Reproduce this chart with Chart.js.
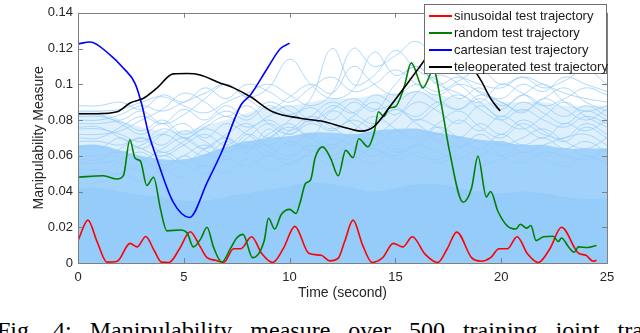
<!DOCTYPE html>
<html>
<head>
<meta charset="utf-8">
<script src="https://cdn.jsdelivr.net/npm/chart.js@4.4.0/dist/chart.umd.min.js"></script>
<style>
  body { margin:0; width:640px; height:333px; overflow:hidden; background:#fff; position:relative; font-family:"Liberation Sans", Arial, sans-serif; }
  #chart { position:absolute; left:0; top:0; }
  #legend { position:absolute; left:424px; top:4px; width:181px; height:68px; background:#fff; border:1px solid #6e6e6e; }
  .item { position:absolute; left:4px; height:17px; line-height:17px; font-size:13px; color:#1a1a1a; white-space:nowrap; }
  .item i { display:inline-block; width:23px; height:0; border-top:2px solid; vertical-align:middle; margin-right:2px; }
  #caption { position:absolute; left:-3px; top:318px; font-family:"Liberation Serif","Times New Roman",serif; font-size:24px; line-height:24px; word-spacing:12px; white-space:nowrap; color:#000; }
</style>
</head>
<body>
<canvas id="chart" width="640" height="305"></canvas>
<div id="legend"></div>
<div id="caption">Fig. 4: Manipulability measure over 500 training joint trajectories</div>
<script>
// test trajectories (time in s, manipulability)
const sinT = [0,0.47,0.9,1.37,1.85,2.46,2.8,3.2,3.6,3.95,4.3,4.8,5.3,5.78,6.1,6.5,6.9,7.35,7.7,8.2,8.7,9.2,9.7,10.25,10.9,11.5,11.9,12.3,12.6,13.0,13.45,13.9,14.4,14.9,15.35,15.8,16.4,17.0,17.45,17.9,18.6,19.05,19.5,19.9,20.3,20.75,21.25,21.75,22.3,22.85,23.65,24.0,24.35,24.5];
const sinV = [0.0125,0.024,0.012,0.0005,0.001,0.011,0.009,0.0148,0.007,0.0005,0.0003,0.008,0.0175,0.009,0.003,0.0015,0.0005,0.008,0.008,0.0147,0.005,0.0003,0.008,0.0205,0.0055,0.0043,0.0012,0.0027,0.012,0.024,0.01,0.0003,0.003,0.011,0.009,0.0147,0.005,0.0003,0.008,0.0173,0.003,0.001,0.003,0.008,0.008,0.0147,0.005,0.0003,0.008,0.020,0.0055,0.0043,0.001,0.0015];

const randT = [0,1.2,1.85,2.15,2.45,2.7,2.95,3.25,3.57,3.9,4.2,4.83,5.15,5.45,5.8,6.1,6.4,6.8,7.2,7.5,7.8,8.25,8.8,9.0,9.3,9.6,10.0,10.3,10.5,10.75,11.0,11.2,11.56,11.94,12.3,12.65,13.0,13.27,13.7,14.0,14.2,14.45,14.7,15.0,15.4,15.75,16.3,16.8,17.15,17.55,18.2,18.6,18.9,19.3,19.5,19.85,20.3,20.7,20.9,21.2,21.4,21.65,22.0,22.45,22.7,22.85,23.2,23.45,23.65,24.1,24.5];
const randV = [0.048,0.0488,0.047,0.049,0.069,0.0586,0.057,0.0434,0.048,0.03,0.018,0.0185,0.017,0.009,0.0135,0.020,0.009,0.0005,0.008,0.014,0.016,0.003,0.0125,0.025,0.019,0.027,0.030,0.0277,0.034,0.0445,0.0467,0.0586,0.065,0.0586,0.0488,0.063,0.059,0.0695,0.065,0.073,0.0846,0.082,0.0868,0.0874,0.098,0.112,0.098,0.108,0.09,0.063,0.034,0.042,0.0597,0.037,0.040,0.0288,0.0206,0.019,0.0217,0.0195,0.021,0.0125,0.0147,0.015,0.012,0.014,0.0087,0.006,0.009,0.0087,0.0098];

const cartT = [0,0.57,1.5,2.15,2.7,3.03,3.3,3.65,4.5,5.27,6.1,6.8,7.7,8.15,8.95,9.57,10.0];
const cartV = [0.1226,0.1237,0.1166,0.109,0.1004,0.088,0.074,0.061,0.034,0.0255,0.045,0.0624,0.0884,0.094,0.109,0.12,0.123];

const teleT = [0,0.9,1.85,2.46,3.1,3.74,4.5,5.15,5.78,6.65,7.35,8.15,9.2,10.5,11.6,12.55,13.36,14.0,14.8,15.6,16.1,16.7,17.5,18.3,19.05,19.5,19.95];
const teleV = [0.0835,0.0835,0.0846,0.0895,0.0922,0.098,0.1058,0.106,0.1052,0.101,0.098,0.093,0.0846,0.081,0.0792,0.076,0.0738,0.0765,0.0884,0.101,0.109,0.118,0.122,0.115,0.102,0.092,0.085];

// training trajectories: dense band + visible upper curves, sampled each second
const trainT = [0,1,2,3,4,5,6,7,8,9,10,11,12,13,14,15,16,17,18,19,20,21,22,23,24,25];
const coreTop = [0.042,0.042,0.04,0.038,0.037,0.035,0.035,0.037,0.039,0.041,0.043,0.045,0.044,0.042,0.04,0.042,0.044,0.044,0.042,0.04,0.039,0.04,0.039,0.037,0.036,0.036];
const midTop = [0.066,0.066,0.063,0.06,0.058,0.058,0.061,0.065,0.068,0.07,0.071,0.073,0.073,0.072,0.074,0.075,0.075,0.073,0.071,0.069,0.068,0.066,0.066,0.064,0.064,0.064];
const outerTop = [0.085,0.085,0.08,0.076,0.074,0.074,0.077,0.08,0.084,0.087,0.088,0.09,0.092,0.092,0.094,0.095,0.096,0.094,0.092,0.09,0.09,0.09,0.09,0.088,0.088,0.088];
const trainLines = [
  [0.085,0.085,0.086,0.09,0.093,0.088,0.084,0.09,0.095,0.1,0.094,0.088,0.095,0.12,0.11,0.116,0.124,0.112,0.105,0.1,0.098,0.104,0.1,0.095,0.092,0.09],
  [0.082,0.082,0.08,0.085,0.078,0.083,0.092,0.1,0.093,0.098,0.114,0.1,0.092,0.097,0.118,0.105,0.11,0.1,0.095,0.09,0.1,0.095,0.088,0.092,0.098,0.094],
  [0.078,0.078,0.079,0.074,0.08,0.072,0.078,0.085,0.08,0.088,0.083,0.092,0.12,0.1,0.105,0.119,0.108,0.102,0.092,0.098,0.088,0.094,0.1,0.09,0.085,0.088],
  [0.075,0.075,0.072,0.068,0.075,0.07,0.064,0.072,0.078,0.07,0.08,0.087,0.08,0.09,0.085,0.1,0.11,0.1,0.104,0.095,0.09,0.085,0.092,0.098,0.09,0.085],
  [0.072,0.072,0.074,0.08,0.086,0.095,0.09,0.082,0.088,0.078,0.072,0.08,0.075,0.082,0.09,0.083,0.095,0.105,0.1,0.09,0.082,0.09,0.084,0.078,0.085,0.08],
  [0.068,0.068,0.066,0.07,0.062,0.068,0.075,0.07,0.065,0.072,0.078,0.07,0.085,0.078,0.072,0.08,0.09,0.085,0.078,0.088,0.08,0.075,0.082,0.09,0.082,0.076],
  [0.065,0.065,0.062,0.066,0.072,0.066,0.06,0.068,0.062,0.075,0.066,0.072,0.066,0.074,0.082,0.075,0.07,0.078,0.085,0.076,0.07,0.078,0.072,0.07,0.078,0.072],
  [0.06,0.06,0.062,0.058,0.064,0.07,0.063,0.058,0.066,0.06,0.068,0.063,0.07,0.065,0.06,0.068,0.075,0.068,0.065,0.072,0.066,0.07,0.075,0.068,0.064,0.07],
  [0.056,0.056,0.058,0.062,0.055,0.06,0.066,0.06,0.072,0.065,0.06,0.066,0.058,0.064,0.07,0.062,0.066,0.072,0.065,0.06,0.068,0.062,0.066,0.07,0.072,0.066],
  [0.052,0.052,0.05,0.056,0.062,0.056,0.05,0.058,0.054,0.06,0.055,0.062,0.066,0.06,0.056,0.064,0.06,0.058,0.064,0.068,0.06,0.056,0.062,0.06,0.058,0.064],
  [0.08,0.08,0.083,0.088,0.085,0.09,0.095,0.1,0.092,0.086,0.093,0.1,0.095,0.11,0.1,0.094,0.1,0.096,0.102,0.108,0.1,0.104,0.098,0.102,0.108,0.1],
  [0.048,0.048,0.05,0.046,0.052,0.048,0.055,0.05,0.058,0.052,0.056,0.06,0.055,0.058,0.064,0.058,0.062,0.056,0.06,0.055,0.058,0.062,0.058,0.054,0.06,0.056],
  [0.088,0.088,0.09,0.086,0.094,0.09,0.098,0.092,0.1,0.096,0.09,0.098,0.104,0.096,0.1,0.108,0.1,0.094,0.1,0.096,0.092,0.1,0.096,0.104,0.1,0.096],
  [0.07,0.07,0.076,0.082,0.078,0.086,0.08,0.088,0.082,0.09,0.085,0.079,0.088,0.084,0.094,0.088,0.082,0.09,0.086,0.094,0.09,0.084,0.092,0.086,0.08,0.086],
  [0.064,0.064,0.07,0.064,0.072,0.078,0.07,0.078,0.072,0.066,0.074,0.082,0.076,0.07,0.078,0.086,0.078,0.072,0.08,0.074,0.082,0.076,0.07,0.078,0.074,0.08],
  [0.058,0.058,0.064,0.07,0.066,0.074,0.068,0.062,0.07,0.078,0.072,0.078,0.074,0.08,0.074,0.07,0.08,0.076,0.07,0.078,0.072,0.08,0.074,0.068,0.076,0.07],
  [0.05,0.05,0.056,0.052,0.06,0.056,0.064,0.07,0.064,0.07,0.076,0.07,0.064,0.072,0.066,0.074,0.068,0.076,0.07,0.064,0.072,0.066,0.07,0.064,0.068,0.062],
  [0.045,0.045,0.05,0.058,0.052,0.06,0.054,0.062,0.068,0.062,0.058,0.066,0.06,0.068,0.064,0.06,0.066,0.062,0.058,0.064,0.06,0.066,0.06,0.064,0.06,0.056],
  [0.083,0.083,0.078,0.072,0.078,0.07,0.076,0.082,0.076,0.082,0.088,0.08,0.086,0.092,0.086,0.09,0.096,0.09,0.086,0.092,0.086,0.094,0.088,0.082,0.088,0.082],
  [0.076,0.076,0.07,0.064,0.06,0.066,0.072,0.066,0.074,0.08,0.074,0.082,0.09,0.084,0.078,0.086,0.08,0.088,0.094,0.086,0.08,0.086,0.08,0.076,0.082,0.078]
];

const names = ['sinusoidal test trajectory', 'random test trajectory', 'cartesian test trajectory', 'teleoperated test trajectory'];
const colors = ['rgb(255,0,0)', 'rgb(0,128,0)', 'rgb(0,0,255)', 'rgb(0,0,0)'];
const yTicks = [0, 0.02, 0.04, 0.06, 0.08, 0.1, 0.12, 0.14];

const pts = (xs, ys) => xs.map((x, i) => ({x: x, y: ys[i]}));
const lightBlue = 'rgb(150,204,250)';

const datasets = [];
[[sinT, sinV], [randT, randV], [cartT, cartV], [teleT, teleV]].forEach((s, i) => {
  datasets.push({
    label: names[i], data: pts(s[0], s[1]), borderColor: colors[i], borderWidth: 1.6,
    pointRadius: 0, cubicInterpolationMode: 'monotone', order: 4 - i
  });
});
trainLines.forEach((l, i) => {
  datasets.push({
    label: 'train' + i, data: pts(trainT, l), borderColor: 'rgba(150,204,250,0.85)', borderWidth: 0.9,
    pointRadius: 0, tension: 0.4, order: 10
  });
});
datasets.push({label: 'outer', data: pts(trainT, outerTop), borderWidth: 0, pointRadius: 0, tension: 0.4,
  fill: 'origin', backgroundColor: 'rgba(150,204,250,0.3)', order: 21});
datasets.push({label: 'mid', data: pts(trainT, midTop), borderWidth: 0, pointRadius: 0, tension: 0.4,
  fill: 'origin', backgroundColor: 'rgba(150,204,250,0.85)', order: 20});
datasets.push({label: 'core', data: pts(trainT, coreTop), borderWidth: 0, pointRadius: 0, tension: 0.4,
  fill: 'origin', backgroundColor: lightBlue, order: 19});

// MATLAB-style box with inward ticks
const frame = {
  id: 'frame',
  afterDraw(chart) {
    const {ctx, chartArea: a, scales: {x, y}} = chart;
    ctx.save();
    ctx.strokeStyle = '#808080';
    ctx.lineWidth = 1;
    ctx.strokeRect(Math.round(a.left) + 0.5, Math.round(a.top) + 0.5, Math.round(a.right - a.left), Math.round(a.bottom - a.top));
    ctx.beginPath();
    x.ticks.forEach(t => {
      const px = Math.round(x.getPixelForValue(t.value)) + 0.5;
      ctx.moveTo(px, a.bottom); ctx.lineTo(px, a.bottom - 5);
      ctx.moveTo(px, a.top); ctx.lineTo(px, a.top + 5);
    });
    y.ticks.forEach(t => {
      const py = Math.round(y.getPixelForValue(t.value)) + 0.5;
      ctx.moveTo(a.left, py); ctx.lineTo(a.left + 5, py);
      ctx.moveTo(a.right, py); ctx.lineTo(a.right - 5, py);
    });
    ctx.stroke();
    ctx.restore();
  }
};

new Chart(document.getElementById('chart'), {
  type: 'line',
  data: {datasets: datasets},
  options: {
    responsive: false,
    animation: false,
    layout: {padding: {left: 0, right: 33, top: 5, bottom: 0}},
    plugins: {legend: {display: false}, tooltip: {enabled: false}},
    scales: {
      x: {
        type: 'linear', min: 0, max: 25,
        grid: {display: false, drawTicks: false}, border: {display: false},
        ticks: {stepSize: 5, padding: 7, color: '#262626', font: {family: 'Liberation Sans', size: 13}},
        title: {display: true, text: 'Time (second)', color: '#262626', font: {family: 'Liberation Sans', size: 14}, padding: {top: 0, bottom: 3}},
        afterFit: s => { s.height = 42; }
      },
      y: {
        min: 0, max: 0.14,
        grid: {display: false, drawTicks: false}, border: {display: false},
        afterBuildTicks: s => { s.ticks = yTicks.map(v => ({value: v})); },
        ticks: {padding: 5, color: '#262626', font: {family: 'Liberation Sans', size: 13},
          callback: v => String(+v.toFixed(2))},
        title: {display: true, text: 'Manipulability Measure', color: '#262626', font: {family: 'Liberation Sans', size: 14}, padding: {top: 31, bottom: 0}},
        afterFit: s => { s.width = 78; }
      }
    }
  },
  plugins: [frame]
});

const legend = document.getElementById('legend');
names.forEach((n, i) => {
  const d = document.createElement('div');
  d.className = 'item';
  d.style.top = (1.5 + i * 17) + 'px';
  d.innerHTML = '<i style="border-color:' + colors[i] + '"></i>' + n;
  legend.appendChild(d);
});
</script>
</body>
</html>
